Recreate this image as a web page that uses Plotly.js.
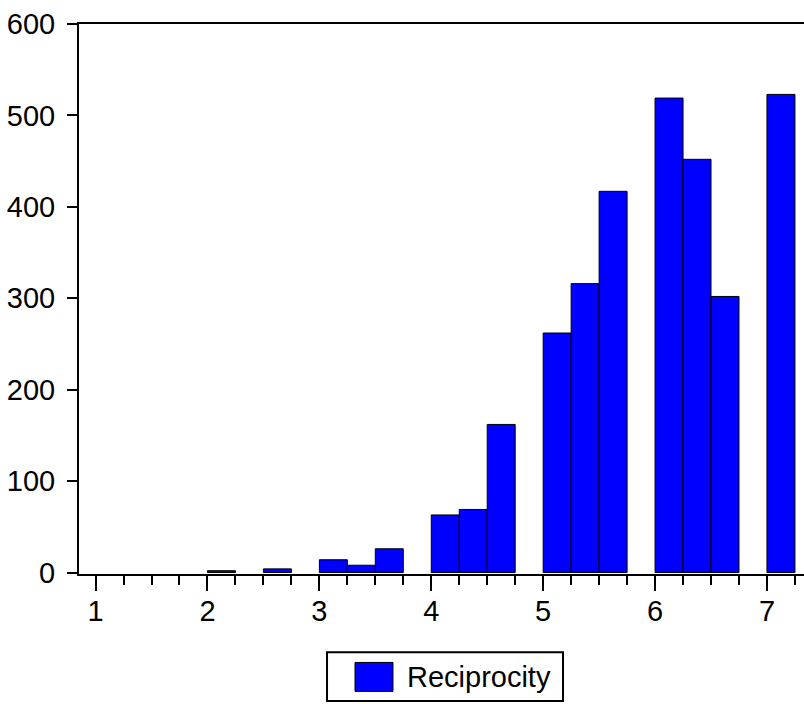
<!DOCTYPE html>
<html>
<head>
<meta charset="utf-8">
<script src="https://cdn.plot.ly/plotly-3.0.1.min.js"></script>
<style>
html,body{margin:0;padding:0;background:#fff;}
#chart{width:804px;height:704px;}
</style>
</head>
<body>
<div id="chart"></div>
<script>
// Histogram of Reciprocity: bin lower edges (width 0.25) and counts
var binStart = [2.0, 2.5, 3.0, 3.25, 3.5, 4.0, 4.25, 4.5, 5.0, 5.25, 5.5, 6.0, 6.25, 6.5, 7.0];
var counts   = [2, 4, 14, 8, 26, 63, 69, 162, 262, 316, 417, 519, 452, 302, 523];
var binWidth = 0.25;
var seriesName = "Reciprocity";
var xTicks = [1, 2, 3, 4, 5, 6, 7];
var yTicks = [0, 100, 200, 300, 400, 500, 600];

var FONT = "Liberation Sans, Arial, sans-serif";

var trace = {
  type: "bar",
  name: seriesName,
  x: binStart,
  y: counts,
  width: binStart.map(function(){return binWidth;}),
  offset: 0,
  marker: {color: "#0000ff", line: {color: "#000000", width: 1}},
  showlegend: false,
  hoverinfo: "x+y"
};

// legend geometry in paper coords
var L = {x0: 0.3421, x1: 0.6676, y0: -0.2311, y1: -0.1421};
var S = {x0: 0.3807, x1: 0.4331, y0: -0.2134, y1: -0.1608};

var layout = {
  width: 804, height: 704,
  margin: {l: 79, r: 0, t: 24, b: 129.5},
  paper_bgcolor: "#ffffff",
  plot_bgcolor: "#ffffff",
  font: {family: FONT, size: 29, color: "#000000"},
  bargap: 0,
  xaxis: {
    range: [0.852, 7.331],
    tickmode: "array",
    tickvals: xTicks,
    ticktext: xTicks.map(String),
    ticks: "outside",
    ticklen: 15,
    tickwidth: 2,
    tickcolor: "#000",
    ticklabelstandoff: -5,
    minor: {dtick: 0.25, tick0: 0, ticks: "outside", ticklen: 9, tickwidth: 2, tickcolor: "#000"},
    showline: true,
    linecolor: "#000",
    linewidth: 2,
    mirror: true,
    showgrid: false,
    zeroline: false,
    tickfont: {family: FONT, size: 29, color: "#000"},
    fixedrange: true
  },
  yaxis: {
    range: [-1.6, 600],
    tickmode: "array",
    tickvals: yTicks,
    ticktext: yTicks.map(String),
    ticks: "outside",
    ticklen: 10,
    tickwidth: 2,
    tickcolor: "#000",
    ticklabelstandoff: 6,
    showline: true,
    linecolor: "#000",
    linewidth: 2,
    mirror: false,
    showgrid: false,
    zeroline: false,
    tickfont: {family: FONT, size: 29, color: "#000"},
    fixedrange: true
  },
  showlegend: false,
  shapes: [
    {type: "rect", xref: "paper", yref: "paper", x0: L.x0, x1: L.x1, y0: L.y0, y1: L.y1,
     line: {color: "#000", width: 2}, fillcolor: "#fff"},
    {type: "rect", xref: "paper", yref: "paper", x0: S.x0, x1: S.x1, y0: S.y0, y1: S.y1,
     line: {color: "#000", width: 1}, fillcolor: "#0000ff"}
  ],
  annotations: [
    {xref: "paper", yref: "paper", x: 0.4497, y: (S.y0 + S.y1) / 2, xanchor: "left", yanchor: "middle",
     text: seriesName, showarrow: false, font: {family: FONT, size: 29, color: "#000"}}
  ]
};

Plotly.newPlot("chart", [trace], layout, {displayModeBar: false, staticPlot: true});
</script>
</body>
</html>
